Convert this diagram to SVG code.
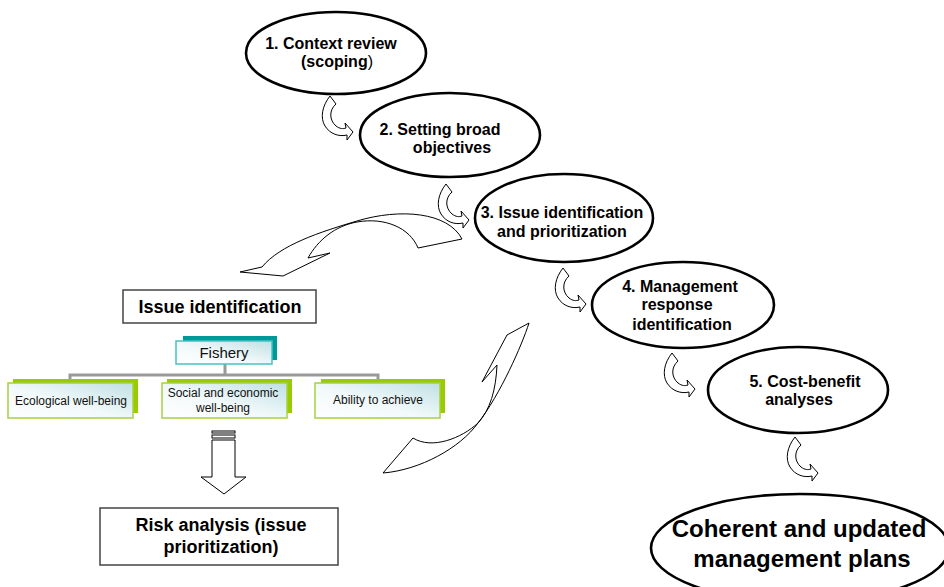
<svg xmlns="http://www.w3.org/2000/svg" xmlns:xlink="http://www.w3.org/1999/xlink" width="944" height="587" viewBox="0 0 944 587">
<defs>
<style>
.ell{fill:#fff;stroke:#000;stroke-width:2.6}
.et{font-family:"Liberation Sans",Arial,sans-serif;font-weight:bold;font-size:16px;fill:#000;text-anchor:middle}
.bt{font-family:"Liberation Sans",Arial,sans-serif;font-weight:bold;font-size:18px;fill:#000;text-anchor:middle}
.st{font-family:"Liberation Sans",Arial,sans-serif;font-size:12px;fill:#111;text-anchor:middle}
.box{fill:#fff;stroke:#444;stroke-width:1.5}
.arr{fill:#fff;stroke:#000;stroke-width:1}
.back{fill:#99cc00}
.front{fill:url(#g);stroke:#a8d040;stroke-width:1.5}
.conn{fill:none;stroke:#999;stroke-width:3}
</style>
<linearGradient id="g" x1="0" y1="1" x2="1" y2="0">
<stop offset="0" stop-color="#ffffff"/>
<stop offset="0.45" stop-color="#f2f9fa"/>
<stop offset="1" stop-color="#bfe0e4"/>
</linearGradient>
<path id="uturn" d="M10,0 L16,8 C9,14 9,24 16,30 C20,33 23,33 26,32 L25,27 L33,36 L27,44 L27,39 C19,41 10,38 5,30 C0,22 2,10 10,0 Z"/>
</defs>
<rect width="944" height="587" fill="#fff"/>

<g id="connectors">
<use xlink:href="#uturn" class="arr" transform="translate(320,96)"/>
<use xlink:href="#uturn" class="arr" transform="translate(436,184)"/>
<use xlink:href="#uturn" class="arr" transform="translate(553,268)"/>
<use xlink:href="#uturn" class="arr" transform="translate(662,353)"/>
<use xlink:href="#uturn" class="arr" transform="translate(785,437)"/>
<path class="arr" d="M462,239 C448,212 400,208 357,221 C320,232 280,245 262,267 L240,272 L283,276 L330,253 L308,258 C318,240 335,226 357,222 C385,217 410,228 418,248 Z"/>
<path class="arr" d="M529,323 L507,335 L482,382 L497,365 C496,390 490,410 478,423 C462,438 432,450 413,438 L383,473 C420,470 460,448 478,423 C500,395 522,345 529,323 Z"/>
<path class="conn" d="M225,364 V375 M70,381 V375 H378 V381"/>
<path class="arr" d="M212,440 H235 V477 H246 L224,494 L201,477 H212 Z"/>
<rect class="arr" x="212" y="431" width="23" height="2"/>
<rect class="arr" x="212" y="435" width="23" height="3"/>
</g>

<g id="n1">
<ellipse class="ell" cx="336" cy="53" rx="90" ry="41"/>
<text class="et" x="331" y="49">1. Context review</text>
<text class="et" x="337" y="67">(scoping<tspan font-weight="normal">)</tspan></text>
</g>
<g id="n2">
<ellipse class="ell" cx="450" cy="135" rx="90" ry="42"/>
<text class="et" x="440" y="135">2. Setting broad</text>
<text class="et" x="452" y="153">objectives</text>
</g>
<g id="n3">
<ellipse class="ell" cx="564" cy="218" rx="89" ry="44"/>
<text class="et" x="562" y="218">3. Issue identification</text>
<text class="et" x="562" y="237">and prioritization</text>
</g>
<g id="n4">
<ellipse class="ell" cx="683" cy="305" rx="91" ry="43"/>
<text class="et" x="680" y="292">4. Management</text>
<text class="et" x="677" y="310">response</text>
<text class="et" x="682" y="330">identification</text>
</g>
<g id="n5">
<ellipse class="ell" cx="798" cy="390" rx="90" ry="43"/>
<text class="et" x="805" y="387">5. Cost-benefit</text>
<text class="et" x="799" y="405">analyses</text>
</g>
<g id="n6">
<ellipse class="ell" cx="800" cy="548" rx="149" ry="54"/>
<text class="et" style="font-size:24px" x="799" y="537">Coherent and updated</text>
<text class="et" style="font-size:24px" x="802" y="567">management plans</text>
</g>

<g id="issue">
<rect class="box" x="123" y="290" width="193" height="33"/>
<text class="bt" x="220" y="313">Issue identification</text>
</g>
<g id="fishery">
<rect x="183" y="336" width="94" height="24" fill="#009999"/>
<rect x="176" y="341" width="96" height="23" fill="url(#g)" stroke="#44c4c4" stroke-width="1.5"/>
<text class="st" style="font-size:15px" x="224" y="358">Fishery</text>
</g>
<g id="eco">
<rect class="back" x="13" y="379" width="125" height="34"/>
<rect class="front" x="8" y="383" width="125" height="35"/>
<text class="st" x="71" y="405">Ecological well-being</text>
</g>
<g id="social">
<rect class="back" x="167" y="379" width="125" height="34"/>
<rect class="front" x="162" y="383" width="125" height="35"/>
<text class="st" x="223" y="397">Social and economic</text>
<text class="st" x="223" y="412">well-being</text>
</g>
<g id="ability">
<rect class="back" x="321" y="379" width="124" height="34"/>
<rect class="front" x="315" y="383" width="125" height="35"/>
<text class="st" x="378" y="404">Ability to achieve</text>
</g>
<g id="risk">
<rect class="box" x="100" y="508" width="238" height="57"/>
<text class="bt" x="221" y="531">Risk analysis (issue</text>
<text class="bt" x="221" y="553">prioritization)</text>
</g>
</svg>
